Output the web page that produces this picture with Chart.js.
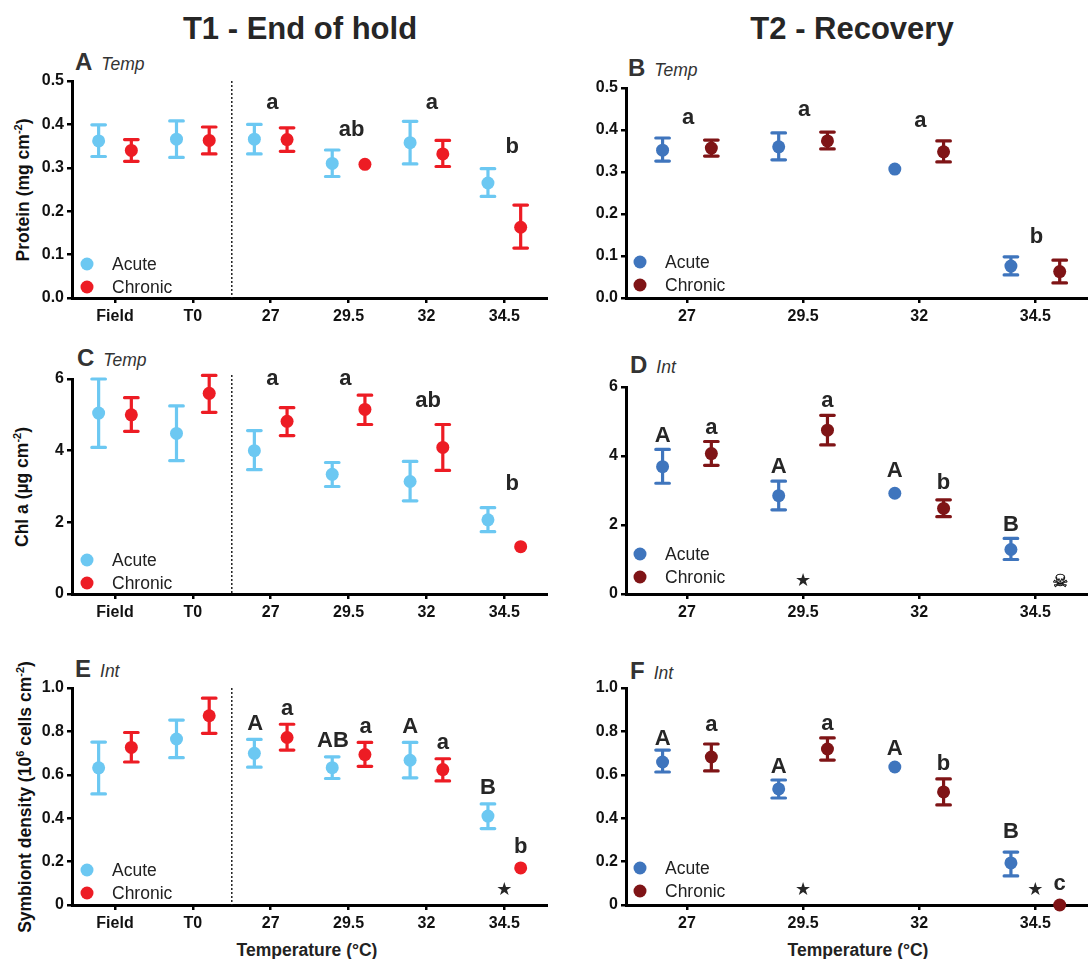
<!DOCTYPE html>
<html>
<head>
<meta charset="utf-8">
<script src="https://cdn.jsdelivr.net/npm/chart.js@4"></script>
<style>
  html, body { margin: 0; padding: 0; background: #fff; overflow: hidden; }
  body { width: 1088px; height: 959px; position: relative; font-family: "Liberation Sans", Arial, sans-serif; }
  canvas { position: absolute; }
  .txt { position: absolute; white-space: nowrap; line-height: 1; }
  .head { font-size: 31px; font-weight: bold; color: #262626; transform: translateX(-50%); }
  .panel { font-size: 24px; font-weight: bold; color: #333; }
  .panel i { font-size: 17.5px; font-weight: normal; margin-left: 9px; }
  .xtitle { font-size: 17.5px; font-weight: bold; color: #222; transform: translateX(-50%); }
  .ytitle { font-size: 17.5px; font-weight: bold; color: #111; transform: translate(-50%, -50%) rotate(-90deg); }
  .ytitle sup { font-size: 11px; line-height: 0; }
</style>
</head>
<body>
<div class="txt head" style="left:300px;top:13px">T1 - End of hold</div>
<div class="txt head" style="left:852px;top:13px">T2 - Recovery</div>
<div class="txt panel" style="left:75px;top:50px">A<i>Temp</i></div>
<div class="txt panel" style="left:628px;top:56px">B<i>Temp</i></div>
<div class="txt panel" style="left:77px;top:346px">C<i>Temp</i></div>
<div class="txt panel" style="left:630px;top:353px">D<i>Int</i></div>
<div class="txt panel" style="left:75px;top:657px">E<i>Int</i></div>
<div class="txt panel" style="left:630px;top:659px">F<i>Int</i></div>
<div class="txt ytitle" style="left:24px;top:190px">Protein (mg cm<sup>-2</sup>)</div>
<div class="txt ytitle" style="left:23px;top:487px">Chl a (µg cm<sup>-2</sup>)</div>
<div class="txt ytitle" style="left:26px;top:797px">Symbiont density (10<sup>6</sup> cells cm<sup>-2</sup>)</div>
<div class="txt xtitle" style="left:307px;top:942px">Temperature (°C)</div>
<div class="txt xtitle" style="left:858px;top:942px">Temperature (°C)</div>

<canvas id="chartA"></canvas>
<canvas id="chartB"></canvas>
<canvas id="chartC"></canvas>
<canvas id="chartD"></canvas>
<canvas id="chartE"></canvas>
<canvas id="chartF"></canvas>

<script>
const catsLeft = ["Field", "T0", "27", "29.5", "32", "34.5"];
const catsRight = ["27", "29.5", "32", "34.5"];

const ticksProtein = ["0.0", "0.1", "0.2", "0.3", "0.4", "0.5"];
const ticksChl = ["0", "2", "4", "6"];
const ticksDensity = ["0", "0.2", "0.4", "0.6", "0.8", "1.0"];

// panel A
const acuteA = [0.362, 0.366, 0.366, 0.31, 0.358, 0.265];
const acuteHiA = [0.399, 0.408, 0.4, 0.341, 0.407, 0.298];
const acuteLoA = [0.326, 0.324, 0.332, 0.28, 0.309, 0.234];
const chronicA = [0.34, 0.363, 0.365, 0.308, 0.332, 0.163];
const chronicHiA = [0.365, 0.394, 0.392, null, 0.363, 0.214];
const chronicLoA = [0.315, 0.332, 0.338, null, 0.303, 0.115];

// panel B
const acuteB = [0.352, 0.36, 0.307, 0.076];
const acuteHiB = [0.381, 0.393, null, 0.098];
const acuteLoB = [0.326, 0.329, null, 0.055];
const chronicB = [0.357, 0.374, 0.348, 0.063];
const chronicHiB = [0.376, 0.395, 0.374, 0.09];
const chronicLoB = [0.338, 0.355, 0.324, 0.036];

// panel C
const acuteC = [5.05, 4.48, 4.0, 3.34, 3.14, 2.07];
const acuteHiC = [6.0, 5.25, 4.56, 3.67, 3.7, 2.41];
const acuteLoC = [4.09, 3.72, 3.47, 3.0, 2.6, 1.74];
const chronicC = [5.0, 5.6, 4.82, 5.15, 4.09, 1.32];
const chronicHiC = [5.48, 6.1, 5.2, 5.55, 4.73, null];
const chronicLoC = [4.54, 5.07, 4.42, 4.73, 3.45, null];

// panel D
const acuteD = [3.69, 2.85, 2.92, 1.29];
const acuteHiD = [4.19, 3.27, null, 1.61];
const acuteLoD = [3.21, 2.44, null, 1.0];
const chronicD = [4.07, 4.75, 2.48, null];
const chronicHiD = [4.42, 5.18, 2.73, null];
const chronicLoD = [3.73, 4.32, 2.24, null];

// panel E
const acuteE = [0.632, 0.765, 0.699, 0.633, 0.667, 0.41];
const acuteHiE = [0.751, 0.852, 0.763, 0.683, 0.749, 0.466];
const acuteLoE = [0.512, 0.679, 0.635, 0.583, 0.586, 0.352];
const chronicE = [0.726, 0.872, 0.772, 0.693, 0.624, 0.171];
const chronicHiE = [0.795, 0.953, 0.833, 0.749, 0.674, null];
const chronicLoE = [0.659, 0.791, 0.714, 0.639, 0.572, null];

// panel F
const acuteF = [0.659, 0.535, 0.636, 0.194];
const acuteHiF = [0.714, 0.576, null, 0.244];
const acuteLoF = [0.613, 0.493, null, 0.134];
const chronicF = [0.682, 0.719, 0.521, 0];
const chronicHiF = [0.742, 0.77, 0.581, null];
const chronicLoF = [0.618, 0.668, 0.461, null];

// significance letters: [category position, value, text]
const lettersA = [[2.02, 0.436, "a"], [3.04, 0.373, "ab"], [4.07, 0.435, "a"], [5.1, 0.333, "b"]];
const lettersB = [[0.01, 0.414, "a"], [1.01, 0.433, "a"], [2.01, 0.407, "a"], [3.01, 0.131, "b"]];
const lettersC = [[2.02, 5.83, "a"], [2.96, 5.83, "a"], [4.02, 5.21, "ab"], [5.1, 2.89, "b"]];
const lettersD = [[-0.21, 4.41, "A"], [0.21, 4.65, "a"], [0.79, 3.52, "A"], [1.21, 5.42, "a"],
                  [1.79, 3.38, "A"], [2.21, 3.04, "b"], [2.79, 1.83, "B"]];
const lettersE = [[1.8, 0.806, "A"], [2.21, 0.875, "a"], [2.8, 0.726, "AB"], [3.22, 0.791, "a"],
                  [3.79, 0.791, "A"], [4.21, 0.72, "a"], [4.79, 0.511, "B"], [5.21, 0.24, "b"]];
const lettersF = [[-0.21, 0.737, "A"], [0.21, 0.8, "a"], [0.79, 0.608, "A"], [1.21, 0.806, "a"],
                  [1.79, 0.691, "A"], [2.21, 0.622, "b"], [2.79, 0.309, "B"], [3.21, 0.069, "c"]];

// star and skull marks
const marksD = [[1.0, 0.23, "★", 18], [3.215, 0.2, "☠", 18]];
const marksE = [[5, 0.046, "★", 18]];
const marksF = [[1.0, 0.046, "★", 18], [3, 0.046, "★", 18]];

const LIGHT_BLUE = "#6cc8f2";
const RED = "#ed1c24";
const BLUE = "#3f75bd";
const DARK_RED = "#7f1416";
const DODGE = 0.21;
const SANS = '"Liberation Sans", Arial, sans-serif';

const errorBars = {
  id: "errorBars",
  beforeDatasetsDraw(chart) {
    const { ctx, scales } = chart;
    ctx.save();
    ctx.lineWidth = 3.2;
    ctx.lineCap = "round";
    chart.data.datasets.forEach(ds => {
      ctx.strokeStyle = ds.backgroundColor;
      ds.hi.forEach((hi, i) => {
        if (hi === null) return;
        const x = scales.x.getPixelForValue(ds.data[i].x);
        const top = scales.y.getPixelForValue(hi);
        const bottom = scales.y.getPixelForValue(ds.lo[i]);
        ctx.beginPath();
        ctx.moveTo(x, top);
        ctx.lineTo(x, bottom);
        ctx.moveTo(x - 6.8, top);
        ctx.lineTo(x + 6.8, top);
        ctx.moveTo(x - 6.8, bottom);
        ctx.lineTo(x + 6.8, bottom);
        ctx.stroke();
      });
    });
    ctx.restore();
  }
};

const extras = {
  id: "extras",
  afterDatasetsDraw(chart, args, opts) {
    const { ctx, scales, chartArea } = chart;
    ctx.save();

    // dotted divider between field/T0 and the treatments
    if (opts.divider) {
      const x = scales.x.getPixelForValue(1.5);
      ctx.strokeStyle = "#222";
      ctx.lineWidth = 1.5;
      ctx.setLineDash([2, 2]);
      ctx.beginPath();
      ctx.moveTo(x, chartArea.top - opts.dividerRise);
      ctx.lineTo(x, chartArea.bottom);
      ctx.stroke();
      ctx.setLineDash([]);
    }

    ctx.textAlign = "center";
    ctx.textBaseline = "alphabetic";
    ctx.fillStyle = "#262626";
    ctx.font = "bold 22px " + SANS;
    opts.letters.forEach(l => {
      ctx.fillText(l[2], scales.x.getPixelForValue(l[0]), scales.y.getPixelForValue(l[1]));
    });
    (opts.marks || []).forEach(m => {
      const x = scales.x.getPixelForValue(m[0]);
      const y = scales.y.getPixelForValue(m[1]);
      ctx.font = m[3] + 'px "DejaVu Sans"';
      ctx.fillText(m[2], x, y);
      if (m[2] === "☠") {
        // the glyph is an outline, the reference skull is solid
        ctx.strokeStyle = "#111";
        ctx.lineWidth = 0.4;
        ctx.strokeText(m[2], x, y);
      }
    });

    // legend
    const names = ["Acute", "Chronic"];
    ctx.font = "17.5px " + SANS;
    ctx.textAlign = "left";
    ctx.textBaseline = "middle";
    names.forEach((name, i) => {
      const y = chartArea.bottom - opts.legendBottom + i * 23;
      ctx.beginPath();
      ctx.fillStyle = chart.data.datasets[i].backgroundColor;
      ctx.arc(chartArea.left + opts.legendX, y, 6.5, 0, Math.PI * 2);
      ctx.fill();
      ctx.fillStyle = "#222";
      ctx.fillText(name, chartArea.left + opts.legendX + 25, y + 1);
    });
    ctx.restore();
  }
};

function series(values, hi, lo, color, offset, label) {
  return {
    label: label,
    data: values.map((v, i) => ({ x: i + offset, y: v })),
    hi: hi,
    lo: lo,
    backgroundColor: color,
    borderColor: color,
    pointRadius: 6.5,
    pointHoverRadius: 6.5,
    pointBorderWidth: 0,
    clip: false
  };
}

// left, top and bottom are where the axes meet on the page
function drawPanel(id, cfg) {
  const canvas = document.getElementById(id);
  const yWidth = 60, topPad = 20, xHeight = 35;
  const width = cfg.right - cfg.left + yWidth;
  const height = cfg.bottom - cfg.top + topPad + xHeight;
  canvas.width = width;
  canvas.height = height;
  canvas.style.width = width + "px";
  canvas.style.height = height + "px";
  canvas.style.left = (cfg.left - yWidth) + "px";
  canvas.style.top = (cfg.top - topPad) + "px";

  const dark = cfg.cats.length === 4;
  new Chart(canvas.getContext("2d"), {
    type: "scatter",
    data: {
      datasets: [
        series(cfg.acute[0], cfg.acute[1], cfg.acute[2], dark ? BLUE : LIGHT_BLUE, -DODGE, "Acute"),
        series(cfg.chronic[0], cfg.chronic[1], cfg.chronic[2], dark ? DARK_RED : RED, DODGE, "Chronic")
      ]
    },
    options: {
      responsive: false,
      animation: false,
      layout: { autoPadding: false, padding: { top: topPad, left: 0, right: 0, bottom: 0 } },
      plugins: {
        legend: { display: false },
        tooltip: { enabled: false },
        extras: {
          letters: cfg.letters,
          marks: cfg.marks,
          divider: !dark,
          dividerRise: cfg.dividerRise || 0,
          legendX: dark ? 14 : 15,
          legendBottom: cfg.legendBottom
        }
      },
      scales: {
        x: {
          type: "linear",
          min: cfg.xMin,
          max: cfg.xMax,
          afterFit: s => { s.height = xHeight; s.paddingLeft = 0; s.paddingRight = 0; },
          afterBuildTicks: s => { s.ticks = cfg.cats.map((c, i) => ({ value: i })); },
          grid: { drawOnChartArea: false, color: "#000", lineWidth: 2.5, tickLength: 5 },
          border: { color: "#000", width: 3 },
          ticks: {
            autoSkip: false,
            maxRotation: 0,
            padding: 4,
            color: "#111",
            font: { family: SANS, size: 16, weight: "bold" },
            callback: (v, i) => cfg.cats[i]
          }
        },
        y: {
          min: 0,
          max: cfg.yMax,
          afterFit: s => { s.width = yWidth; },
          grid: { drawOnChartArea: false, color: "#000", lineWidth: 2.5, tickLength: 5 },
          border: { color: "#000", width: 3 },
          ticks: {
            stepSize: cfg.yMax / (cfg.yTicks.length - 1),
            padding: 3,
            color: "#111",
            font: { family: SANS, size: 16, weight: "bold" },
            callback: (v, i) => cfg.yTicks[i]
          }
        }
      }
    },
    plugins: [errorBars, extras]
  });
}

const leftX = { left: 72, right: 548, xMin: -0.552, xMax: 5.561, cats: catsLeft };
const rightX = { left: 626, right: 1090, xMin: -0.525, xMax: 3.471, cats: catsRight };

drawPanel("chartA", { ...leftX, top: 81, bottom: 298, yMax: 0.5, yTicks: ticksProtein, legendBottom: 34,
  acute: [acuteA, acuteHiA, acuteLoA], chronic: [chronicA, chronicHiA, chronicLoA], letters: lettersA });
drawPanel("chartB", { ...rightX, top: 88, bottom: 298, yMax: 0.5, yTicks: ticksProtein, legendBottom: 36,
  acute: [acuteB, acuteHiB, acuteLoB], chronic: [chronicB, chronicHiB, chronicLoB], letters: lettersB });
drawPanel("chartC", { ...leftX, top: 379, bottom: 594, yMax: 6, yTicks: ticksChl, legendBottom: 34, dividerRise: 4,
  acute: [acuteC, acuteHiC, acuteLoC], chronic: [chronicC, chronicHiC, chronicLoC], letters: lettersC });
drawPanel("chartD", { ...rightX, top: 387, bottom: 594, yMax: 6, yTicks: ticksChl, legendBottom: 40,
  acute: [acuteD, acuteHiD, acuteLoD], chronic: [chronicD, chronicHiD, chronicLoD], letters: lettersD, marks: marksD });
drawPanel("chartE", { ...leftX, top: 688, bottom: 905, yMax: 1, yTicks: ticksDensity, legendBottom: 35,
  acute: [acuteE, acuteHiE, acuteLoE], chronic: [chronicE, chronicHiE, chronicLoE], letters: lettersE, marks: marksE });
drawPanel("chartF", { ...rightX, top: 688, bottom: 905, yMax: 1, yTicks: ticksDensity, legendBottom: 37,
  acute: [acuteF, acuteHiF, acuteLoF], chronic: [chronicF, chronicHiF, chronicLoF], letters: lettersF, marks: marksF });
</script>
</body>
</html>
